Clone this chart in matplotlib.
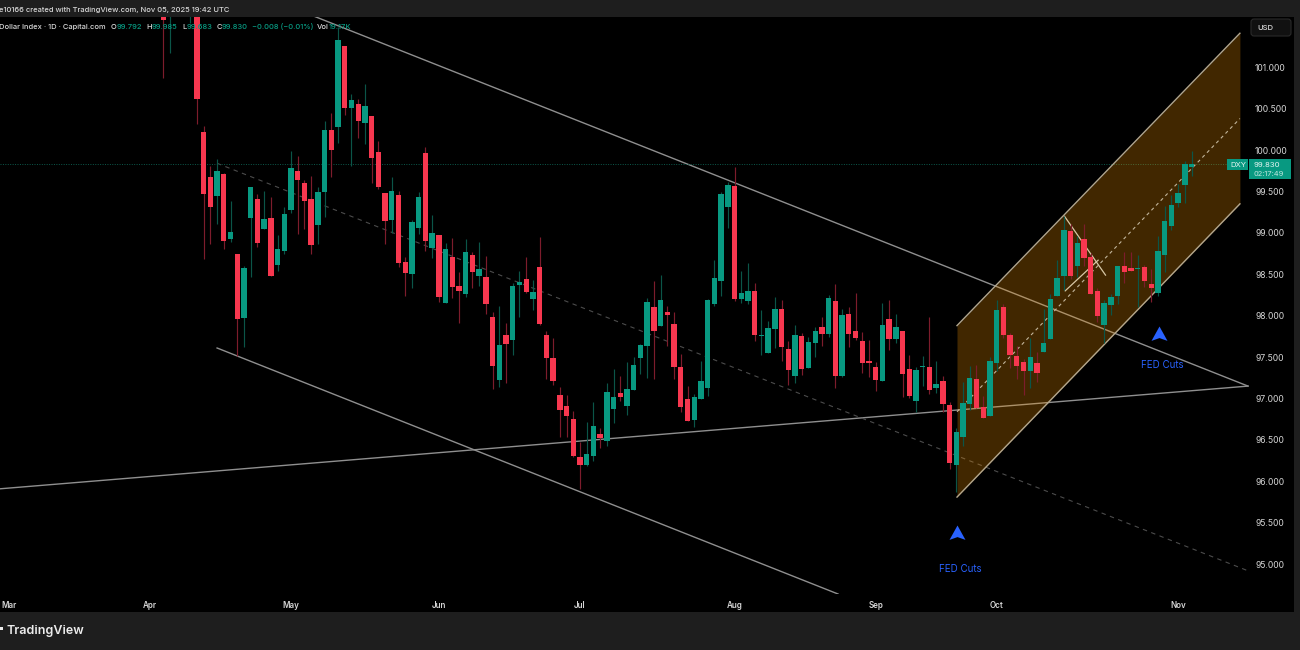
#!/usr/bin/env python3
"""DXY daily candles with trend lines and a rising channel, TradingView dark theme."""
import matplotlib
matplotlib.use("Agg")
import matplotlib.pyplot as plt
from matplotlib.patches import FancyBboxPatch, Rectangle
from matplotlib.path import Path

plt.rcParams["font.family"] = ["Inter", "DejaVu Sans"]

# Bars are numbered by session, the first visible one is 0
opens = [101.85,101.75,102.30,102.05,101.90,102.15,100.22,99.67,99.44,99.71,98.93,98.74,97.97,99.18,99.41,99.05,99.18,98.61,98.78,99.28,
         99.75,99.60,99.41,99.09,99.49,100.24,100.28,101.26,100.51,100.56,100.33,100.41,99.98,99.48,99.15,99.46,98.65,98.50,99.06,99.96,
         98.82,98.97,98.15,98.71,98.36,98.26,98.73,98.48,98.47,97.98,97.22,97.77,97.71,98.37,98.44,98.20,98.59,97.77,97.49,97.04,
         96.91,96.75,96.29,96.20,96.31,96.57,96.49,96.87,97.07,96.91,97.10,97.49,97.63,98.10,97.88,98.04,97.90,97.38,96.99,96.74,
         96.99,97.13,98.14,98.42,99.31,99.57,98.20,98.18,98.30,97.75,97.55,97.84,98.08,97.60,97.27,97.75,97.37,97.67,97.86,97.78,
         98.18,97.27,98.02,97.81,97.69,97.45,97.38,97.21,97.96,97.72,97.81,97.36,96.97,97.38,97.38,97.13,97.21,96.92,96.20,96.54,
         96.93,97.24,96.90,96.79,97.43,98.10,97.77,97.51,97.44,97.33,97.43,97.56,97.72,98.24,98.48,99.02,98.60,98.93,98.71,98.30,
         97.89,98.13,98.24,98.60,98.58,98.56,98.59,98.38,98.27,98.73,99.08,99.36,99.58,99.792]
highs = [102.10,102.20,102.45,102.50,102.30,102.30,100.29,99.81,99.89,99.72,99.38,98.74,98.60,99.55,99.47,99.50,99.43,98.97,99.31,99.99,
         99.93,99.64,99.69,99.55,100.35,100.45,101.48,101.26,100.68,100.62,100.80,100.41,100.11,99.48,99.67,99.50,98.71,99.15,99.49,100.04,
         99.22,98.97,98.88,98.94,98.53,98.93,98.77,98.89,98.72,98.04,98.12,97.91,98.39,98.54,98.71,98.43,98.95,97.81,97.73,97.14,
         97.04,96.85,96.47,96.72,96.96,96.64,97.19,97.36,97.27,97.44,97.50,97.66,98.21,98.42,98.49,98.12,98.04,97.54,97.15,97.05,
         97.45,98.20,98.67,99.49,99.61,99.79,98.54,98.64,98.39,98.07,97.94,98.23,98.19,97.69,97.89,97.79,97.74,97.86,97.98,98.25,
         98.38,98.08,98.10,98.27,97.80,97.71,97.44,98.15,98.19,98.02,97.81,97.53,97.38,97.51,97.98,97.45,97.27,96.96,96.64,97.20,
         97.39,97.40,97.03,97.50,98.19,98.14,97.79,97.63,97.48,97.73,97.56,98.08,98.26,98.67,99.20,99.11,98.96,99.11,98.76,98.33,
         98.19,98.26,98.60,98.77,98.77,98.73,98.61,98.56,98.96,99.32,99.46,99.59,99.87,99.985]
lows = [100.87,101.17,101.90,101.85,101.53,100.31,98.68,98.87,99.11,98.80,98.89,97.51,97.62,98.47,98.83,99.05,98.48,98.54,98.74,99.24,
        98.99,99.05,98.74,98.87,99.19,99.67,100.08,100.42,99.81,100.14,100.07,99.60,99.53,98.87,99.00,98.59,98.24,98.33,98.99,98.78,
        98.70,98.16,98.15,98.21,97.91,98.23,98.33,98.36,98.02,97.11,97.14,97.19,97.53,97.98,98.27,98.07,97.89,97.24,97.16,96.54,
        96.54,96.29,95.91,96.18,96.25,96.40,96.43,96.70,96.97,96.80,97.10,97.30,97.25,97.24,97.88,97.63,97.24,96.84,96.73,96.66,
        96.99,97.03,98.12,98.24,99.06,98.18,98.15,98.14,97.69,97.53,97.55,97.61,97.45,97.16,97.19,97.28,97.37,97.50,97.63,97.74,
        97.13,97.26,97.62,97.71,97.31,97.26,97.09,97.21,97.59,97.67,97.02,97.01,96.84,97.15,97.05,97.07,96.84,96.15,95.87,96.43,
        96.86,96.89,96.76,96.79,97.33,97.73,97.37,97.24,97.04,97.13,97.20,97.56,97.72,98.24,98.31,98.44,98.47,98.60,98.26,97.92,
        97.67,98.01,98.14,98.39,98.54,98.10,98.35,98.16,98.24,98.53,99.03,99.31,99.36,99.683]
closes = [101.57,102.00,102.05,102.30,102.20,100.62,99.47,99.31,99.75,98.90,99.01,97.96,98.58,99.55,98.88,99.17,98.48,98.80,99.23,99.78,
          99.64,99.38,98.85,99.49,100.24,100.00,101.33,100.51,100.60,100.35,100.53,99.90,99.55,99.14,99.50,98.64,98.52,99.13,99.43,98.90,
          99.00,98.23,98.80,98.35,98.30,98.77,98.53,98.56,98.14,97.39,97.65,97.66,98.36,98.41,98.29,98.29,97.90,97.49,97.21,96.86,
          96.79,96.31,96.20,96.33,96.67,96.52,97.08,97.02,97.02,97.11,97.40,97.65,98.16,97.81,98.19,98.01,97.38,96.90,96.73,97.02,
          97.21,98.19,98.45,99.47,99.58,98.20,98.27,98.30,97.77,97.77,97.85,98.08,97.62,97.34,97.77,97.36,97.68,97.81,97.78,98.21,
          97.27,98.01,97.78,97.73,97.43,97.43,97.22,97.89,97.72,97.86,97.30,97.03,97.34,97.39,97.10,97.17,96.93,96.22,96.60,96.95,
          97.25,96.89,96.76,97.45,98.07,97.77,97.53,97.39,97.33,97.50,97.31,97.67,98.20,98.45,99.03,98.48,98.88,98.70,98.26,98.00,
          98.15,98.23,98.60,98.53,98.54,98.58,98.42,98.33,98.78,99.14,99.34,99.48,99.83,99.830]

price_ticks = [95.0, 95.5, 96.0, 96.5, 97.0, 97.5, 98.0, 98.5, 99.0, 99.5, 100.0, 100.5, 101.0]
month_bars = [-23, -2, 19, 41, 62, 85, 106, 124, 151]
month_names = ["Mar", "Apr", "May", "Jun", "Jul", "Aug", "Sep", "Oct", "Nov"]

# Hand drawn lines, (bar, price) at each end
upper_wedge = ([22.6, 161.4], [101.61, 97.15])
lower_wedge = ([8.0, 100.4], [97.61, 94.64])
rising_line = ([-24.3, 161.4], [95.91, 97.15])
wedge_mid = ([8.0, 161.4], [99.84, 94.92])
channel_x = [118.1, 160.2]
channel_top = [97.88, 101.41]
channel_bottom = [95.81, 99.35]
channel_mid = [96.84, 100.38]
fork_a = ([134.1, 140.2], [99.20, 98.49])
fork_b = ([134.2, 139.1], [98.30, 98.67])
fed_bars = [118.1, 148.2]
fed_arrows = [95.38, 97.78]
fed_labels = [94.94, 97.40]
fed_label_bars = [118.6, 148.6]
last_price = 99.83

W, H = 1300, 650
UP, DOWN = "#089981", "#f7374f"
UP_WICK, DOWN_WICK = "#0b5548", "#7d1c2c"
GREY = "#8f8f8f"
TAN = "#b3a78f"
PANEL = "#1e1e1e"
TEXT = "#d6d6d6"


def fx(px):
    return px / W


def fy(py):
    return 1 - py / H


fig = plt.figure(figsize=(13, 6.5), dpi=100, facecolor=PANEL)
fig.patches.append(Rectangle((0, fy(612)), fx(1294), fy(17) - fy(612), transform=fig.transFigure,
                             facecolor="black", edgecolor="none", zorder=-1))

ax = fig.add_axes([0, fy(594), fx(1250), fy(17) - fy(594)])
ax.set_facecolor("black")
ax.set_xlim(-24.3, 161.7)
ax.set_ylim(94.64, 101.606)
for s in ax.spines.values():
    s.set_visible(False)

# ---- drawings under the candles ----
for xs, ys in (upper_wedge, lower_wedge, rising_line):
    ax.plot(xs, ys, color=GREY, lw=1.0, zorder=1)
ax.plot(*wedge_mid, color="#4c4c4c", lw=0.8, ls=(0, (4, 4)), zorder=1)
ax.hlines(last_price, -24.3, 158.3, color="#0c5a4c", lw=0.7, ls=(0, (1, 1.5)), zorder=1)

ax.fill_between(channel_x, channel_bottom, channel_top, color="#ff9800", alpha=0.26, lw=0, zorder=2)
ax.plot(channel_x, channel_top, color=TAN, lw=1.0, zorder=2.5)
ax.plot(channel_x, channel_bottom, color=TAN, lw=1.0, zorder=2.5)
ax.plot(channel_x, channel_mid, color="#c2b59b", lw=0.8, ls=(0, (3, 3)), zorder=2.5)
ax.plot(*fork_a, color="#d8c8a6", lw=0.9, zorder=2.5)
ax.plot(*fork_b, color="#d8c8a6", lw=0.9, zorder=2.5)

# ---- candles ----
for i, (o, h, l, c) in enumerate(zip(opens, highs, lows, closes)):
    up = c >= o
    ax.vlines(i, l, h, color=UP_WICK if up else DOWN_WICK, lw=0.85, zorder=3)
    ax.bar(i, abs(c - o), bottom=min(o, c), width=0.8, color=UP if up else DOWN, lw=0, zorder=4)

# ---- FED cut markers ----
arrow = Path([(0, 1), (1, -0.8), (0, -0.45), (-1, -0.8), (0, 1)])
ax.plot(fed_bars, fed_arrows, ls="none", marker=arrow, ms=11.5, color="#2962ff", mew=0, zorder=5)
for xb, yp in zip(fed_label_bars, fed_labels):
    ax.text(xb, yp, "FED Cuts", color="#2962ff", fontsize=7, ha="center", va="center", zorder=5)

# ---- axes ----
ax.set_xticks(month_bars, month_names)
ax.set_yticks(price_ticks, [f"{p:.3f}" for p in price_ticks])
ax.yaxis.tick_right()
ax.tick_params(axis="x", length=0, pad=5, labelsize=5.8, labelcolor=TEXT)
ax.tick_params(axis="y", length=0, pad=3.6, labelsize=6.2, labelcolor=TEXT)
for lab in ax.get_xticklabels():
    lab.set_fontweight("semibold")
for lab in ax.get_yticklabels():
    lab.set_ha("left")

# ---- header ----
fig.text(fx(-1), fy(10), "e10166 created with TradingView.com, Nov 05, 2025 19:42 UTC",
         color=TEXT, fontsize=5.45, fontweight="medium", va="center")
legend_parts = [
    (-1, "Dollar Index · 1D · Capital.com", TEXT), (111, "O", TEXT), (117, "99.792", UP),
    (146, "H", TEXT), (152, "99.985", UP), (182, "L", TEXT), (187, "99.683", UP),
    (217, "C", TEXT), (222, "99.830", UP), (252, "−0.008 (−0.01%)", UP),
    (317, "Vol", TEXT), (329, "19.17K", UP),
]
for px, s, col in legend_parts:
    fig.text(fx(px), fy(27), s, color=col, fontsize=5.45, fontweight="medium", va="center", zorder=6)

# ---- price axis widgets ----
fig.patches.append(FancyBboxPatch((1251, H - 36), 40, 17, boxstyle="round,pad=0,rounding_size=3",
                                  transform=None, facecolor="#111111", edgecolor="#2a2a2a", lw=0.8))
fig.text(fx(1257), fy(28), "USD", color=TEXT, fontsize=5.5, fontweight="medium", va="center")
fig.patches.append(Rectangle((fx(1227), fy(170)), fx(21), fy(159) - fy(170), transform=fig.transFigure,
                             facecolor=UP, edgecolor="none"))
fig.patches.append(Rectangle((fx(1249), fy(179)), fx(42), fy(159) - fy(179), transform=fig.transFigure,
                             facecolor=UP, edgecolor="none"))
fig.text(fx(1230), fy(165), "DXY", color="#e6f5f2", fontsize=5.6, va="center")
fig.text(fx(1254), fy(165), "99.830", color="#e6f5f2", fontsize=5.6, va="center")
fig.text(fx(1254), fy(174), "02:17:49", color="#bfe6df", fontsize=5.4, va="center")

# ---- footer ----
fig.patches.append(Rectangle((0, fy(630)), fx(2.5), fy(627) - fy(630), transform=fig.transFigure,
                             facecolor="#ececec", edgecolor="none"))
fig.text(fx(6), fy(631), "TradingView", color="#ececec", fontsize=9, fontweight="semibold", va="center")

fig.savefig("out.png", dpi=100, facecolor=PANEL)
